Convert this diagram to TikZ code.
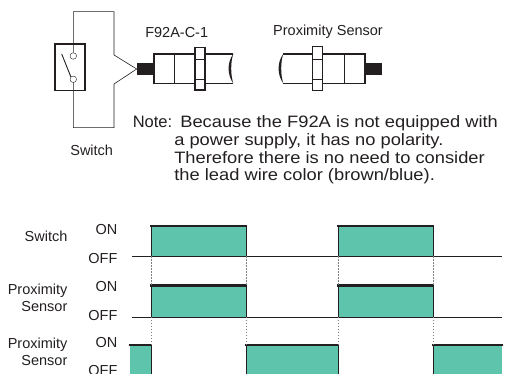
\documentclass[tikz,border=0pt]{standalone}
\usepackage{fontspec}
\setmainfont{Liberation Sans}
\newfontfamily\notefont[FakeStretch=1.11]{Liberation Sans}
\usetikzlibrary{positioning}
\definecolor{pulsegreen}{RGB}{94,196,172}
\definecolor{ink}{RGB}{35,31,32}

\begin{document}
\begin{tikzpicture}[x=1pt, y=-1pt, semithick, ink,
        font=\fontsize{14.5}{17}\selectfont,
        contact/.style={circle, draw, thin, fill=white, minimum size=6.5pt, inner sep=0pt},
        body/.style={line width=1.3pt},
        level/.style={line width=2.6pt, line cap=rect},
        edge/.style={thin},
        guide/.style={thin, gray, dash pattern=on 1.6pt off 1.4pt},
        notetext/.style={anchor=base west, font=\notefont\fontsize{16.5}{18}\selectfont, inner sep=0pt}]
    \useasboundingbox (0,0) rectangle (511,374);

    % switch and lead wires
    \node[draw, body, minimum width=30pt, minimum height=46.7pt, inner sep=0pt] (sw) at (70,67.3) {};
    \node[contact] (c1) at (73.3,56) {};
    \node[contact] (c2) at (73.3,79.3) {};
    \coordinate (lever) at (61.7,54);
    \coordinate (w1) at (73.3,11.7);
    \coordinate (w2) at (114,11.7);
    \coordinate (w3) at (114,55);
    \coordinate (tip) at (136.7,69);
    \coordinate (w4) at (114,84);
    \coordinate (w5) at (114,127.7);
    \coordinate (w6) at (73.3,127.7);
    \draw (c1.north) -- (w1) -- (w2) -- (w3) -- (tip);
    \draw (tip) -- (w4) -- (w5) -- (w6) -- (c2.south);
    \draw[line width=0.9pt] (lever) -- (c2.north west);
    \node (swlabel) at (91.7,150) {Switch};

    % F92A-C-1
    \fill (136.7,63.3) rectangle (154,75);
    \draw[body] (233.3,54) -- (154,54) -- (154,83.3) -- (233.3,83.3);
    \fill (233.3,54) .. controls (227,62) and (227,75) .. (233.3,83.3)
        .. controls (230.5,75) and (230.5,62) .. (233.3,54);
    \draw[thin] (174,54) -- (174,83.3);
    \draw[body, fill=white] (195,47.3) rectangle (205,90);
    \draw[thin] (195,59.3) -- (205,59.3) (195,79) -- (205,79);
    \node (f92label) at (176.7,32.7) {F92A-C-1};

    % proximity sensor
    \fill (365,62.7) rectangle (381.7,75);
    \draw[body] (283.3,54) -- (365,54) -- (365,83.3) -- (283.3,83.3);
    \fill (283.3,54) .. controls (277,62) and (277,75) .. (283.3,83.3)
        .. controls (280.5,75) and (280.5,62) .. (283.3,54);
    \draw[thin] (344,54) -- (344,83.3);
    \draw[body, fill=white] (312.3,46.7) rectangle (322.7,90.7);
    \draw[thin] (312.3,59.3) -- (322.7,59.3) (312.3,79.3) -- (322.7,79.3);
    \node (proxlabel) at (328,31.5) {Proximity Sensor};

    % note
    \node[notetext, font=\fontsize{16.5}{18}\selectfont] (note) at (132.5,127.8) {Note:};
    \node[notetext] (note1) at (180,127.8) {Because the F92A is not equipped with};
    \node[notetext] (note2) at (174,145.5) {a power supply, it has no polarity.};
    \node[notetext] (note3) at (174,163.2) {Therefore there is no need to consider};
    \node[notetext] (note4) at (174,180.9) {the lead wire color (brown/blue).};

    % timing chart
    \foreach \hi/\lo in {226/256, 285.7/316.7} {
        \foreach \a/\b in {151/246, 338/433} {
            \fill[pulsegreen] (\a,\hi) rectangle (\b,\lo);
            \draw[edge] (\a,\lo) -- (\a,\hi) (\b,\hi) -- (\b,\lo);
            \draw[level] (\a,\hi) -- (\b,\hi);
        }
        \draw[edge] (132,\lo) -- (502,\lo);
    }
    \foreach \a/\b in {130/151, 246/338, 433/502} {
        \fill[pulsegreen] (\a,345) rectangle (\b,374);
        \draw[level] (\a,345) -- (\b,345);
    }
    \foreach \x in {151,246,338,433} {
        \draw[edge] (\x,345) -- (\x,374);
        \draw[guide] (\x,256) -- (\x,285.7);
        \draw[guide] (\x,316.7) -- (\x,345);
    }

    \node[anchor=east, align=right] (row1) at (71,236) {Switch};
    \node[anchor=east, align=right] (row2) at (71,297.5) {Proximity\\Sensor};
    \node[anchor=east, align=right] (row3) at (71,352) {Proximity\\Sensor};
    \node[anchor=east] (on1) at (121,230) {ON};
    \node[anchor=east] (off1) at (121,258.3) {OFF};
    \node[anchor=east] (on2) at (121,287) {ON};
    \node[anchor=east] (off2) at (121,315.5) {OFF};
    \node[anchor=east] (on3) at (121,342.5) {ON};
    \node[anchor=east] (off3) at (121,370.5) {OFF};
\end{tikzpicture}
\end{document}
